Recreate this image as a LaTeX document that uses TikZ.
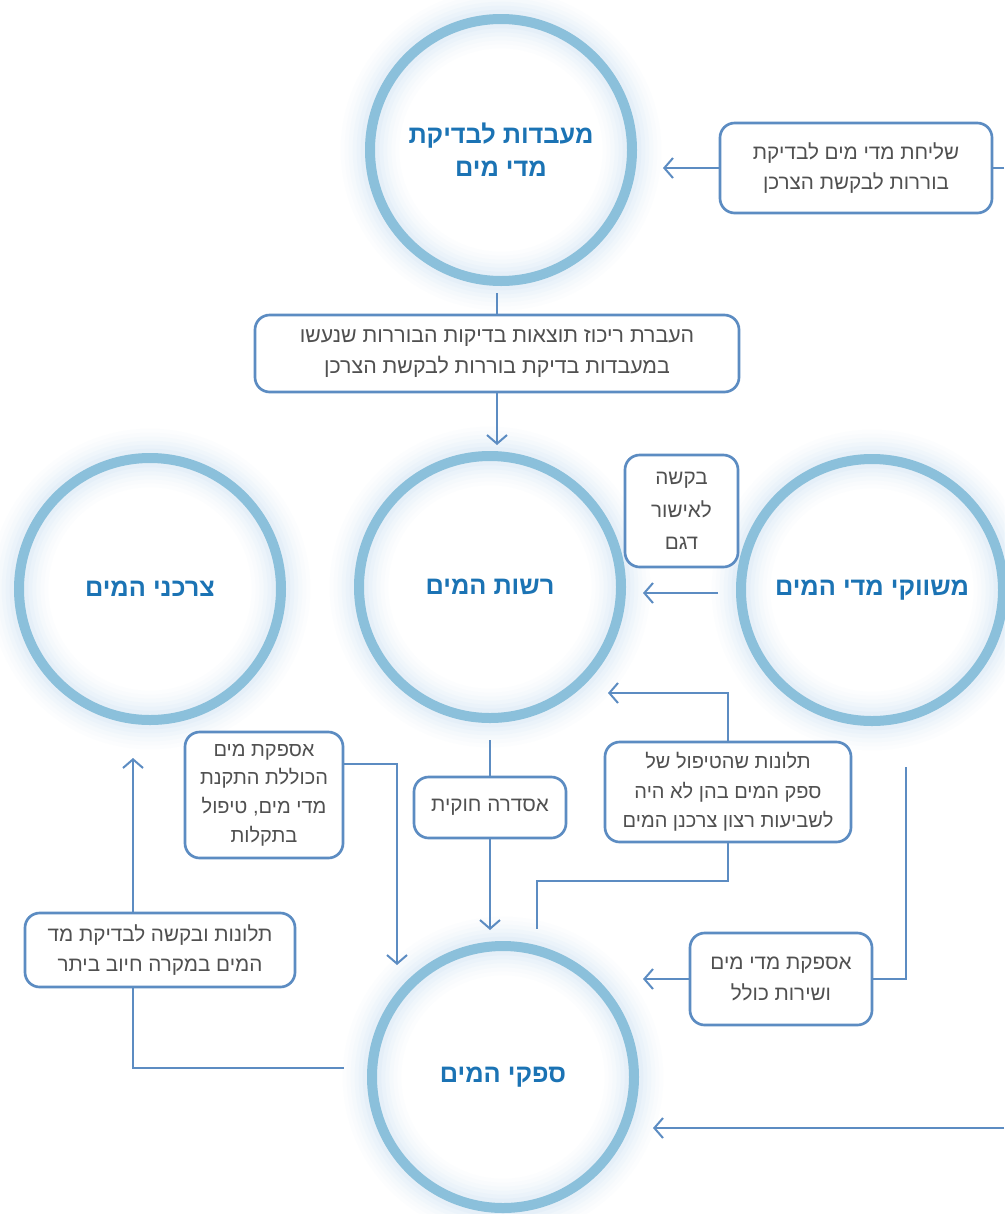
\documentclass[tikz,border=0pt]{standalone}
\usepackage{fontspec}
\setmainfont{Liberation Sans}
\newfontfamily\hebfont[Script=Hebrew]{Liberation Sans}
\TeXXeTstate=1
\usetikzlibrary{arrows.meta,calc}
\newcommand\heb[1]{\beginR #1\endR}
\definecolor{ringc}{RGB}{139,192,219}
\definecolor{glowc}{RGB}{150,200,235}
\definecolor{linec}{RGB}{92,140,194}
\definecolor{titlec}{RGB}{27,115,180}
\definecolor{boxtext}{RGB}{80,80,80}
\begin{document}
\begin{tikzpicture}[x=0.75pt,y=-0.75pt,
  circ/.style={circle, draw=ringc, line width=7.5pt, minimum size=196.5pt, inner sep=0pt,
    font=\hebfont\bfseries\fontsize{19}{25}\selectfont, text=titlec, align=center},
  box/.style={draw=linec, line width=2pt, rounded corners=11pt, fill=white, inner sep=0pt,
    font=\hebfont\fontsize{15.5}{23}\selectfont, text=boxtext, align=center},
  conn/.style={draw=linec, line width=1.5pt},
  arr/.style={conn, -{Straight Barb[length=6.5pt,width=15pt,line width=1.5pt]}}
]
\useasboundingbox (0,0) rectangle (1004,1214);
\fill[white] (0,0) rectangle (1004,1214);
% centres
\coordinate (plab) at (501,150);
\coordinate (pcons) at (150,589);
\coordinate (pauth) at (490,587);
\coordinate (pmkt) at (872,590);
\coordinate (psup) at (503,1077);
% soft glow round each ring
\foreach \p in {plab,pcons,pauth,pmkt,psup}{
  \foreach \w/\o in {44/0.022, 38/0.027, 32/0.034, 26/0.042, 20/0.055, 14/0.07}{
    \draw[glowc, opacity=\o, line width=\w pt] (\p) circle[radius=98.25pt];
  }
}
% circles
\node[circ] (lab) at (plab) {\heb{מעבדות לבדיקת}\\\heb{מדי מים}};
\node[circ] (cons) at (pcons) {\heb{צרכני המים}};
\node[circ] (auth) at (pauth) {\heb{רשות המים}};
\node[circ] (mkt) at (pmkt) {\heb{משווקי מדי המים}};
\node[circ] (sup) at (psup) {\heb{ספקי המים}};
% boxes
\node[box, minimum width=204pt, minimum height=67.5pt] (b1) at (856,168)
  {\heb{שליחת מדי מים לבדיקת}\\\heb{בוררות לבקשת הצרכן}};
\node[box, minimum width=363pt, minimum height=57.75pt, font=\hebfont\fontsize{16}{23}\selectfont] (b2) at (497,353.5)
  {\heb{העברת ריכוז תוצאות בדיקות הבוררות שנעשו}\\\heb{במעבדות בדיקת בוררות לבקשת הצרכן}};
\node[box, minimum width=84.75pt, minimum height=84pt, font=\hebfont\fontsize{15.5}{24.5}\selectfont] (b3) at (681.5,511)
  {\heb{בקשה}\\\heb{לאישור}\\\heb{דגם}};
\node[box, minimum width=118.5pt, minimum height=94.5pt, font=\hebfont\fontsize{15}{21.5}\selectfont] (b4) at (264,795)
  {\heb{אספקת מים}\\\heb{הכוללת התקנת}\\\heb{מדי מים, טיפול}\\\heb{בתקלות}};
\node[box, minimum width=114pt, minimum height=45.75pt] (b5) at (490,807.5)
  {\heb{אסדרה חוקית}};
\node[box, minimum width=184.5pt, minimum height=75pt, font=\hebfont\fontsize{15}{22}\selectfont] (b6) at (728,792)
  {\heb{תלונות שהטיפול של}\\\heb{ספק המים בהן לא היה}\\\heb{לשביעות רצון צרכנן המים}};
\node[box, minimum width=202.5pt, minimum height=55.5pt] (b7) at (160,950)
  {\heb{תלונות ובקשה לבדיקת מד}\\\heb{המים במקרה חיוב ביתר}};
\node[box, minimum width=136.5pt, minimum height=69pt] (b8) at (781,979)
  {\heb{אספקת מדי מים}\\\heb{ושירות כולל}};
% connector ends
\coordinate (e1) at (1004,168);
\coordinate (t1) at (663,168);
\coordinate (s2) at (497,293);
\coordinate (t2) at (497,445);
\coordinate (s3) at (718,593);
\coordinate (t3) at (643,593);
\coordinate (t4) at (608,693);
\coordinate (s4) at (537,929);
\coordinate (s5) at (490,740);
\coordinate (t5) at (490,930);
\coordinate (t6) at (397,965);
\coordinate (t7) at (133,758);
\coordinate (s7) at (344,1068);
\coordinate (s8) at (906,767);
\coordinate (t8) at (643,979);
\coordinate (e9) at (1004,1128);
\coordinate (t9) at (653,1128);
% connectors
\draw[conn] (e1) -- (b1.east);
\draw[arr] (b1.west) -- (t1);
\draw[conn] (s2) -- (b2.north);
\draw[arr] (b2.south) -- (t2);
\draw[arr] (s3) -- (t3);
\draw[arr] (b6.north) |- (t4);
\draw[conn] (b6.south) -- ++(0,38) -| (s4);
\draw[conn] (s5) -- (b5.north);
\draw[arr] (b5.south) -- (t5);
\draw[arr] ($(b4.north east)+(0,33)$) -| (t6);
\draw[arr] (b7.north -| t7) -- (t7);
\draw[conn] (b7.south -| t7) |- (s7);
\draw[conn] (s8) |- (b8.east);
\draw[arr] (b8.west) -- (t8);
\draw[arr] (e9) -- (t9);
\end{tikzpicture}
\end{document}
